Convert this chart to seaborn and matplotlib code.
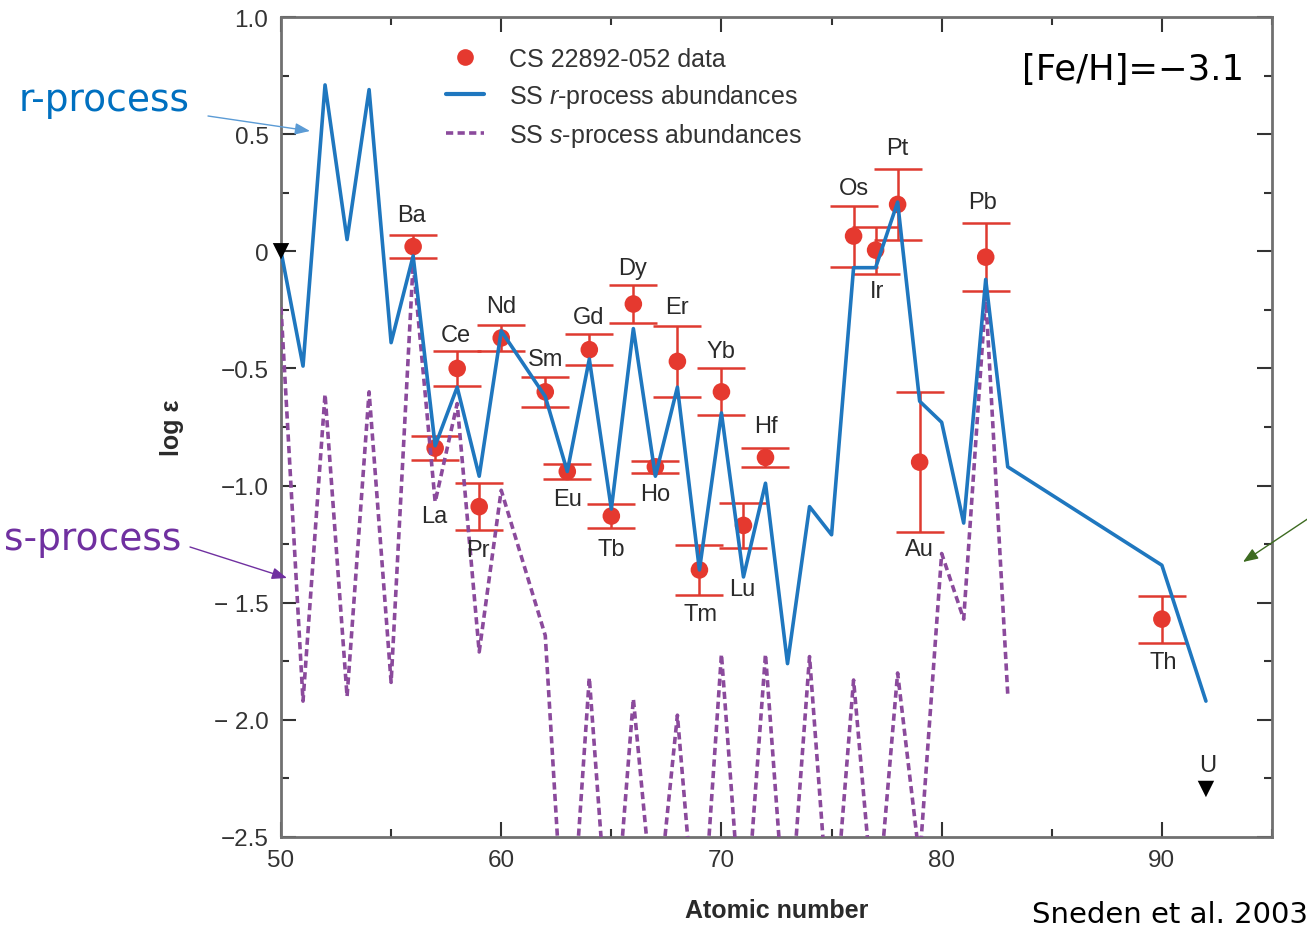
import matplotlib
matplotlib.use("Agg")
import matplotlib.pyplot as plt
import seaborn as sns
import pandas as pd
from matplotlib.lines import Line2D
from matplotlib.ticker import MultipleLocator

# ---------------- data ----------------
# Solar-system r-process abundance curve (scaled)
r_z = [50, 51, 52, 53, 54, 55, 56, 57, 58, 59, 60, 62, 63, 64, 65, 66, 67, 68, 69, 70,
       71, 72, 73, 74, 75, 76, 77, 78, 79, 80, 81, 82, 83, 90, 92]
r_val = [0.00, -0.49, 0.71, 0.05, 0.69, -0.39, -0.02, -0.83, -0.58, -0.96, -0.34,
         -0.62, -0.94, -0.46, -1.10, -0.33, -0.96, -0.58, -1.36, -0.69, -1.39, -0.99,
         -1.76, -1.09, -1.21, -0.07, -0.07, 0.21, -0.64, -0.73, -1.16, -0.12, -0.92,
         -1.34, -1.92]

# Solar-system s-process abundance curve (scaled)
s_z = [50, 51, 52, 53, 54, 55, 56, 57, 58, 59, 60, 62, 63, 64, 65, 66, 67, 68, 69, 70,
       71, 72, 73, 74, 75, 76, 77, 78, 79, 80, 81, 82, 83]
s_val = [-0.24, -1.92, -0.61, -1.90, -0.60, -1.84, -0.05, -1.07, -0.65, -1.71, -1.02,
         -1.64, -3.2, -1.82, -3.1, -1.91, -2.9, -1.98, -3.1, -1.72, -3.0, -1.72, -3.0,
         -1.73, -3.0, -1.83, -2.9, -1.80, -2.6, -1.29, -1.57, -0.19, -1.89]

# CS 22892-052 observed abundances
obs_el = ["Ba", "La", "Ce", "Pr", "Nd", "Sm", "Eu", "Gd", "Tb", "Dy", "Ho", "Er", "Tm",
          "Yb", "Lu", "Hf", "Os", "Ir", "Pt", "Au", "Pb", "Th"]
obs_z = [56, 57, 58, 59, 60, 62, 63, 64, 65, 66, 67, 68, 69, 70, 71, 72, 76, 77, 78, 79, 82, 90]
obs_val = [0.02, -0.84, -0.50, -1.09, -0.37, -0.60, -0.94, -0.42, -1.13, -0.225, -0.92,
           -0.47, -1.36, -0.60, -1.17, -0.88, 0.065, 0.005, 0.20, -0.90, -0.025, -1.57]
obs_err = [0.05, 0.05, 0.075, 0.10, 0.055, 0.065, 0.03, 0.065, 0.05, 0.08, 0.025, 0.15,
           0.105, 0.10, 0.095, 0.04, 0.13, 0.10, 0.15, 0.30, 0.145, 0.10]

# upper limits (Sn, U)
lim_el = ["", "U"]
lim_z = [50, 92]
lim_val = [0.0, -2.295]

# tick labels
x_ticks = [50, 60, 70, 80, 90]
y_ticks = [-2.5, -2.0, -1.5, -1.0, -0.5, 0.0, 0.5, 1.0]
y_ticklabels = ["\u22122.5", "\u2212 2.0", "\u2212 1.5", "\u22121.0", "\u22120.5", "0", "0.5", "1.0"]

# label offsets (pixels) for element names
lab_off = [(-2, 32), (-1, -68), (-1, 33), (-1, -43), (0, 32), (0, 33), (0, -27), (-1, 33),
           (0, -33), (-1, 36), (0, -27), (0, 54), (1, -44), (-1, 41), (-1, -64), (0, 31),
           (0, 48), (1, -41), (0, 56), (0, -87), (-3, 55), (1, -43)]

# ---------------- style ----------------
sns.set_style("ticks")
plt.rcParams["font.family"] = ["Liberation Sans", "DejaVu Sans"]
plt.rcParams["mathtext.fontset"] = "custom"
plt.rcParams["mathtext.it"] = "Liberation Sans:italic"
plt.rcParams["mathtext.rm"] = "Liberation Sans"

BLUE = "#1f77bf"
RED = "#e5392f"
RED_BAR = "#df3a30"
PURPLE = "#8b4a9c"
DASH = (0, (2.0, 1.2))

W, H = 1307, 928
fig = plt.figure(figsize=(W / 100, H / 100), dpi=100)
ax = fig.add_axes([281 / W, (H - 838) / H, (1272 - 281) / W, (838 - 18) / H])

r_df = pd.DataFrame({"Z": r_z, "v": r_val})
s_df = pd.DataFrame({"Z": s_z, "v": s_val})
o_df = pd.DataFrame({"Z": obs_z, "v": obs_val, "err": obs_err, "el": obs_el})
l_df = pd.DataFrame({"Z": lim_z, "v": lim_val, "el": lim_el})

# error bars and points
ax.errorbar(o_df["Z"], o_df["v"], yerr=o_df["err"], fmt="none", ecolor=RED_BAR,
            elinewidth=1.8, capsize=17, capthick=1.8, zorder=2)
sns.scatterplot(data=o_df, x="Z", y="v", ax=ax, color=RED, s=160, edgecolor="none",
                zorder=3, legend=False)

# abundance curves
sns.lineplot(data=s_df, x="Z", y="v", ax=ax, color=PURPLE, linewidth=2.6, sort=False,
             estimator=None, zorder=4)
ax.lines[-1].set_linestyle(DASH)
sns.lineplot(data=r_df, x="Z", y="v", ax=ax, color=BLUE, linewidth=2.6, sort=False,
             estimator=None, zorder=5)

# upper limits
sns.scatterplot(data=l_df, x="Z", y="v", ax=ax, color="black", marker="v", s=140,
                edgecolor="none", zorder=6, legend=False)
ax.collections[-1].set_clip_on(False)

# element labels
for el, z, v, (dx, dy) in zip(obs_el, obs_z, obs_val, lab_off):
    ax.annotate(el, (z, v), xytext=(dx, dy), textcoords="offset pixels",
                ha="center", va="center", fontsize=17, color="#2a2a2a", zorder=7)
ax.annotate(lim_el[1], (lim_z[1], lim_val[1]), xytext=(2, 24), textcoords="offset pixels",
            ha="center", va="center", fontsize=17, color="#2a2a2a")

# axes formatting
ax.set_xlim(50, 95)
ax.set_ylim(-2.5, 1.0)
ax.set_xticks(x_ticks)
ax.set_yticks(y_ticks, y_ticklabels)
ax.xaxis.set_minor_locator(MultipleLocator(5))
ax.yaxis.set_minor_locator(MultipleLocator(0.25))
ax.tick_params(which="both", direction="in", top=True, right=True, colors="#333333",
               labelsize=17.5, pad=9)
ax.tick_params(which="major", length=11, width=1.5)
ax.tick_params(which="minor", length=5.5, width=1.5)
for sp in ax.spines.values():
    sp.set_color("#707070")
    sp.set_linewidth(2.0)

ax.set_xlabel("Atomic number", fontsize=18, fontweight="bold", color="#2a2a2a")
ax.set_ylabel("log \u03b5", fontsize=18, fontweight="bold", color="#2a2a2a")
ax.xaxis.set_label_coords(0.5, -0.075)
ax.yaxis.set_label_coords(-0.098, 0.5)

# legend
handles = [
    Line2D([], [], marker="o", ls="none", color=RED, markersize=12, markeredgewidth=0),
    Line2D([], [], color=BLUE, lw=3.0),
    Line2D([], [], color=PURPLE, lw=2.6, ls=DASH),
]
labels = ["CS 22892-052 data", r"SS $\it{r}$-process abundances",
          r"SS $\it{s}$-process abundances"]
leg = ax.legend(handles, labels, loc="upper left", bbox_to_anchor=(0.1665, 0.964),
                borderaxespad=0, borderpad=0, frameon=False, fontsize=18,
                handlelength=1.5, handletextpad=1.0, labelspacing=0.45)
for t in leg.get_texts():
    t.set_color("#333333")

# metallicity label
ax.text(0.748, 0.9366, "[Fe/H]=\u22123.1", transform=ax.transAxes, ha="left",
        va="center", fontsize=25.5, family="DejaVu Sans", color="black")

# outside annotations
fig.text(104 / W, 1 - 101 / H, "r-process", ha="center", va="center", fontsize=27,
         family="DejaVu Sans", color="#0070C0")
fig.text(93 / W, 1 - 540 / H, "s-process", ha="center", va="center", fontsize=27,
         family="DejaVu Sans", color="#7030A0")
fig.text(1032 / W, 1 - 915 / H, "Sneden et al. 2003", ha="left", va="center",
         fontsize=21, family="DejaVu Sans", color="black")

ax.annotate("", xy=(310, H - 132), xycoords="figure pixels", xytext=(208, H - 117),
            textcoords="figure pixels", annotation_clip=False,
            arrowprops=dict(arrowstyle="-|>,head_length=0.9,head_width=0.35",
                            color="#5b9bd5", lw=1.0, shrinkA=0, shrinkB=0))
ax.annotate("", xy=(287, H - 579), xycoords="figure pixels", xytext=(190, H - 548),
            textcoords="figure pixels", annotation_clip=False,
            arrowprops=dict(arrowstyle="-|>,head_length=0.9,head_width=0.35",
                            color="#7030A0", lw=1.0, shrinkA=0, shrinkB=0))
ax.annotate("", xy=(1243, H - 563), xycoords="figure pixels", xytext=(1312, H - 517),
            textcoords="figure pixels", annotation_clip=False,
            arrowprops=dict(arrowstyle="-|>,head_length=0.9,head_width=0.35",
                            color="#3d6b21", lw=1.0, shrinkA=0, shrinkB=0))

fig.savefig("out.png", dpi=100)
